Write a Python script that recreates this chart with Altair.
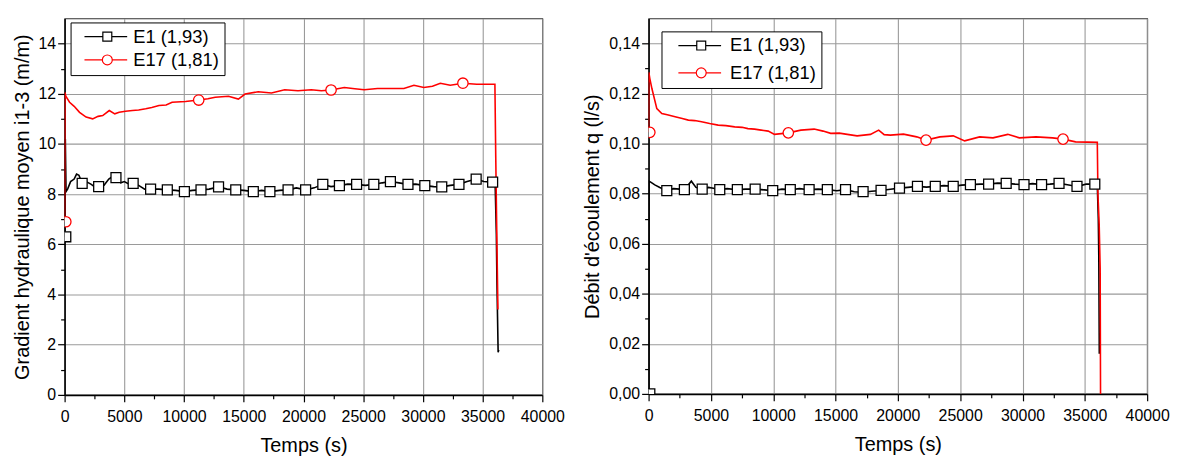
import altair as alt
import pandas as pd

SERIES = ["E1 (1,93)", "E17 (1,81)"]
COLORS = ["#000000", "#ff0000"]
FONT = "Liberation Sans"

# ---------------- left panel : Gradient hydraulique moyen i1-3 (m/m) ----------------
grad_e1_t = [0, 30, 60, 120, 250, 500, 800, 1000, 1200, 1470, 1800, 2200, 2500, 2850, 3300,
             3700, 4000, 4300, 4700, 5000, 5400, 5740, 6200, 6700, 7200, 7900, 8600, 9300,
             10030, 10700, 11420, 12100, 12890, 13600, 14330, 15000, 15800, 16500, 17190,
             18000, 18710, 19400, 20180, 20900, 21620, 22300, 23010, 23700, 24450, 25200,
             25890, 26600, 27280, 28000, 28750, 29400, 30160, 30900, 31580, 32300, 33020,
             33700, 34460, 35100, 35840, 36050, 36150, 36200, 36250, 36300, 36350]
grad_e1_v = [6.3, 8.1, 10.2, 8.1, 8.2, 8.5, 8.6, 8.8, 8.75, 8.43, 8.5, 8.4, 8.3, 8.30, 8.35,
             8.6, 8.7, 8.66, 8.45, 8.5, 8.4, 8.43, 8.35, 8.2, 8.20, 8.2, 8.17, 8.15,
             8.10, 8.15, 8.17, 8.2, 8.29, 8.2, 8.17, 8.15, 8.10, 8.15, 8.10,
             8.15, 8.17, 8.25, 8.17, 8.25, 8.39, 8.3, 8.34, 8.4, 8.39, 8.35,
             8.39, 8.45, 8.50, 8.45, 8.39, 8.4, 8.34, 8.3, 8.29, 8.35, 8.39,
             8.5, 8.60, 8.5, 8.48, 8.4, 6.4, 4.5, 3.1, 1.7, 1.8]
grad_e1_mark_t = [100, 1470, 2850, 4300, 5740, 7200, 8600, 10030, 11420, 12890, 14330, 15800,
                  17190, 18710, 20180, 21620, 23010, 24450, 25890, 27280, 28750, 30160,
                  31580, 33020, 34460, 35840]
grad_e1_mark_v = [6.3, 8.43, 8.30, 8.66, 8.43, 8.20, 8.17, 8.10, 8.17, 8.29, 8.17, 8.10,
                  8.10, 8.17, 8.17, 8.39, 8.34, 8.39, 8.39, 8.50, 8.39, 8.34,
                  8.29, 8.39, 8.60, 8.48]

grad_e17_t = [0, 30, 100, 415, 800, 1250, 1800, 2350, 2800, 3190, 3740, 4200, 4570, 5100,
              5680, 6200, 6790, 7300, 7900, 8500, 9000, 10120, 11230, 12000, 12610, 13720,
              14550, 15110, 16210, 17320, 18430, 19540, 20650, 21500, 22310, 23420, 24300,
              25090, 26200, 27300, 28410, 29250, 30080, 30800, 31460, 32290, 33350, 34510,
              35200, 36030, 36100, 36200, 36280]
grad_e17_v = [6.9, 12.05, 11.9, 11.66, 11.5, 11.26, 11.07, 11.0, 11.1, 11.13, 11.33, 11.2,
              11.26, 11.3, 11.33, 11.35, 11.4, 11.45, 11.53, 11.55, 11.66, 11.69, 11.75,
              11.8, 11.86, 11.9, 11.79, 11.99, 12.08, 12.03, 12.16, 12.12, 12.16, 12.12,
              12.15, 12.25, 12.2, 12.16, 12.21, 12.21, 12.21, 12.34, 12.25, 12.3, 12.42,
              12.34, 12.42, 12.38, 12.38, 12.38, 9.5, 6.0, 3.4]
grad_e17_mark_t = [100, 11230, 22310, 33350]
grad_e17_mark_v = [6.9, 11.75, 12.15, 12.42]

# ---------------- right panel : Debit d'ecoulement q (l/s) ----------------
q_e1_t = [0, 30, 200, 500, 900, 1460, 2000, 2500, 2870, 3430, 3800, 4300, 4800, 5200, 5710,
          6300, 7120, 7800, 8550, 9300, 9960, 10700, 11370, 12100, 12880, 13600, 14340,
          15100, 15800, 16500, 17210, 17900, 18650, 19400, 20130, 20800, 21570, 22300,
          23000, 23700, 24440, 25100, 25820, 26600, 27280, 28000, 28690, 29400, 30120,
          30800, 31530, 32200, 32930, 33600, 34370, 35100, 35800, 36000, 36080, 36120, 36160]
q_e1_v = [0.0, 0.085, 0.0845, 0.0835, 0.0825, 0.0812, 0.082, 0.0818, 0.0816, 0.085, 0.0825,
          0.0818, 0.0825, 0.0822, 0.0816, 0.082, 0.0816, 0.0818, 0.0818, 0.0815, 0.0812,
          0.0818, 0.0816, 0.082, 0.0816, 0.0818, 0.0816, 0.0812, 0.0816, 0.0808, 0.0806,
          0.081, 0.0813, 0.0818, 0.0822, 0.0825, 0.0829, 0.0826, 0.0829, 0.0832, 0.0829,
          0.0834, 0.0836, 0.0838, 0.0838, 0.0842, 0.0841, 0.0838, 0.0836, 0.084, 0.0836,
          0.0838, 0.0841, 0.0836, 0.0829, 0.0838, 0.0838, 0.0835, 0.07, 0.055, 0.016]
q_e1_mark_t = [100, 1460, 2870, 4300, 5710, 7120, 8550, 9960, 11370, 12880, 14340, 15800,
               17210, 18650, 20130, 21570, 23000, 24440, 25820, 27280, 28690, 30120, 31530,
               32930, 34370, 35800]
q_e1_mark_v = [0.0, 0.0812, 0.0816, 0.0818, 0.0816, 0.0816, 0.0818, 0.0812, 0.0816, 0.0816,
               0.0816, 0.0816, 0.0808, 0.0813, 0.0822, 0.0829, 0.0829, 0.0829, 0.0836,
               0.0838, 0.0841, 0.0836, 0.0836, 0.0841, 0.0829, 0.0838]

q_e17_t = [0, 20, 100, 270, 660, 1060, 1500, 2130, 2700, 3190, 3700, 4250, 4900, 5580, 6200,
           6910, 7500, 7970, 8500, 9030, 9600, 10100, 11210, 12220, 13280, 14000, 14610,
           15300, 15940, 16730, 17800, 18460, 18900, 19390, 20450, 21510, 22260, 23370,
           24440, 25360, 26560, 27630, 28820, 29750, 31080, 32410, 33250, 34260, 35200,
           36000, 36050, 36150, 36230, 36260]
q_e17_v = [0.1045, 0.1285, 0.126, 0.1219, 0.114, 0.112, 0.1115, 0.1107, 0.110, 0.1094,
           0.1092, 0.1087, 0.108, 0.1074, 0.1072, 0.1067, 0.1065, 0.106, 0.1058, 0.1054,
           0.105, 0.1037, 0.1043, 0.1054, 0.1058, 0.105, 0.1041, 0.1042, 0.1037, 0.1031,
           0.1037, 0.1054, 0.1036, 0.1034, 0.1038, 0.1027, 0.1014, 0.1027, 0.1031, 0.1011,
           0.1027, 0.1023, 0.1037, 0.1023, 0.1027, 0.1023, 0.1018, 0.1007, 0.1006, 0.1005,
           0.08, 0.068, 0.05, 0.0]
q_e17_mark_t = [100, 11210, 22260, 33250]
q_e17_mark_v = [0.1045, 0.1043, 0.1014, 0.1018]

X_TICKS = list(range(0, 40001, 2500))
GRAD_TICKS = list(range(0, 15))
Q_TICKS = [round(i * 0.01, 2) for i in range(15)]

# legend symbols: line segment with marker (custom path, unit = sqrt(size)/2)
SQ_PATH = "M-2.875,0H-0.5625M0.5625,0H2.5M-0.5625,-0.5625H0.5625V0.5625H-0.5625Z"
CI_PATH = ("M-2.875,0H-0.625M0.625,0H2.5"
           "M-0.625,0C-0.625,-0.3452,-0.3452,-0.625,0,-0.625"
           "C0.3452,-0.625,0.625,-0.3452,0.625,0"
           "C0.625,0.3452,0.3452,0.625,0,0.625"
           "C-0.3452,0.625,-0.625,0.3452,-0.625,0Z")


def frame(t, v, s):
    return pd.DataFrame({"t": t, "v": v, "series": s})


def make_panel(lines, marks, ydom, yticks, ytest, ylabel, ytitle, w, h,
               lx, ly, soff, loff, rpad):
    xtest = "datum.value % 5000 === 0"
    xaxis = alt.Axis(
        values=X_TICKS, title="Temps (s)",
        labelExpr=f"{xtest} ? '' + datum.value : ''",
        tickDash={"condition": {"test": xtest, "value": []}, "value": [4, 40]},
        gridOpacity={"condition": {"test": xtest, "value": 1}, "value": 0},
        labelPadding=7, titlePadding=11,
    )
    yaxis = alt.Axis(
        values=yticks, title=ytitle,
        labelExpr=f"{ytest} ? {ylabel} : ''",
        tickDash={"condition": {"test": ytest, "value": []}, "value": [4, 40]},
        gridOpacity={"condition": {"test": ytest, "value": 1}, "value": 0},
        labelPadding=2, titlePadding=6,
    )
    xs = alt.Scale(domain=[0, 40000], nice=False, zero=False)
    ys = alt.Scale(domain=ydom, nice=False, zero=False)
    X = alt.X("t:Q", scale=xs, axis=xaxis)
    Y = alt.Y("v:Q", scale=ys, axis=yaxis)

    line = alt.Chart(lines).mark_line(strokeWidth=1.6, clip=True).encode(
        x=X, y=Y,
        color=alt.Color("series:N", scale=alt.Scale(domain=SERIES, range=COLORS), legend=None),
    )
    m1 = alt.Chart(marks).transform_filter(alt.datum.series == SERIES[0]).mark_point(
        shape="square", size=100, filled=True, fill="white", stroke=COLORS[0],
        strokeWidth=1.3, opacity=1, clip=True).encode(x=X, y=Y)
    m2 = alt.Chart(marks).transform_filter(alt.datum.series == SERIES[1]).mark_point(
        shape="circle", size=110, filled=True, fill="white", stroke=COLORS[1],
        strokeWidth=1.3, opacity=1, clip=True).encode(x=X, y=Y)

    leg = alt.Legend(
        orient="none", legendX=lx, legendY=ly, title=None,
        strokeColor="black", fillColor="white", padding=5, rowPadding=rpad,
        labelFont=FONT, labelFontSize=18.5, labelColor="black", labelLimit=300,
        symbolOffset=soff, labelOffset=loff, symbolSize=256,
        symbolFillColor="white", symbolStrokeWidth=1.2,
    )
    legend_layer = alt.Chart(marks).transform_filter("false").mark_point(
        filled=True, fill="white", size=256, strokeWidth=1.2, opacity=1).encode(
        x=X, y=Y,
        stroke=alt.Stroke("series:N", scale=alt.Scale(domain=SERIES, range=COLORS), legend=leg),
        shape=alt.Shape("series:N", scale=alt.Scale(domain=SERIES, range=[SQ_PATH, CI_PATH]), legend=leg),
    )
    return alt.layer(line, m1, m2, legend_layer).properties(width=w, height=h)


grad_lines = pd.concat([frame(grad_e1_t, grad_e1_v, SERIES[0]),
                        frame(grad_e17_t, grad_e17_v, SERIES[1])])
grad_marks = pd.concat([frame(grad_e1_mark_t, grad_e1_mark_v, SERIES[0]),
                        frame(grad_e17_mark_t, grad_e17_mark_v, SERIES[1])])
q_lines = pd.concat([frame(q_e1_t, q_e1_v, SERIES[0]),
                     frame(q_e17_t, q_e17_v, SERIES[1])])
q_marks = pd.concat([frame(q_e1_mark_t, q_e1_mark_v, SERIES[0]),
                     frame(q_e17_mark_t, q_e17_mark_v, SERIES[1])])

left = make_panel(grad_lines, grad_marks, [0, 15], GRAD_TICKS,
                  "datum.value % 2 === 0", "'' + datum.value",
                  "Gradient hydraulique moyen i1-3 (m/m)", 481, 379,
                  6, 4, 22.75, 16.75, 4.5)
right = make_panel(q_lines, q_marks, [0, 0.15], Q_TICKS,
                   "round(datum.value * 100) % 2 === 0",
                   "replace(format(datum.value, '.2f'), '.', ',')",
                   "Débit d'écoulement q (l/s)", 502, 378,
                   13, 13, 25.75, 19.75, 8.5)

chart = alt.hconcat(left, right, spacing=17).properties(
    padding={"left": 3, "top": 8, "right": 0, "bottom": 0},
    background="white",
).resolve_legend(
    stroke="independent", shape="independent"
).configure_axis(
    domainColor="black", domainWidth=1.5, tickColor="black", tickWidth=1.2, tickSize=7,
    labelFont=FONT, labelFontSize=16, labelColor="black",
    titleFont=FONT, titleFontSize=20, titleFontWeight="normal", titleColor="black",
    gridColor="#9a9a9a", gridWidth=1.1, labelFlush=False, labelOverlap=False,
).configure_view(
    stroke="#333333", strokeWidth=1.2
)

chart.save("out.html", embed_options={"renderer": "svg", "actions": False})
